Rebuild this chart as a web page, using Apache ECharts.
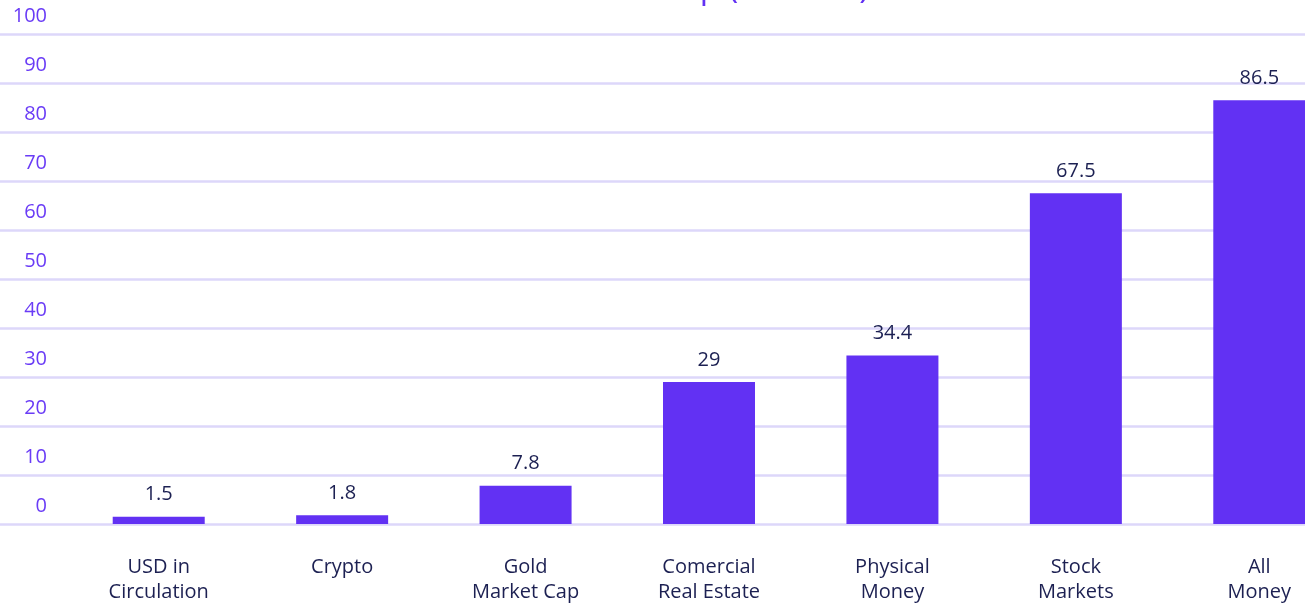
<!DOCTYPE html>
<html>
<head>
<meta charset="utf-8">
<script src="https://cdn.jsdelivr.net/npm/echarts@6/dist/echarts.min.js"></script>
<style>
  html, body { margin: 0; padding: 0; background: #ffffff; }
  #chart { width: 1305px; height: 603px; }
</style>
</head>
<body>
<div id="chart"></div>
<script>
// Market capitalisation by asset class, in trillions
const categories = [
  'USD in\nCirculation',
  'Crypto',
  'Gold\nMarket Cap',
  'Comercial\nReal Estate',
  'Physical\nMoney',
  'Stock\nMarkets',
  'All\nMoney'
];
const values = [1.5, 1.8, 7.8, 29, 34.4, 67.5, 86.5];
const yTicks = { min: 0, max: 100, interval: 10 };
const titleText = 'Market Cap (Trillions)';

const FONT = '"Open Sans", "Noto Sans", sans-serif';
const PURPLE = '#6231f3';
const AXIS_PURPLE = '#6a3cf6';
const NAVY = '#1c2052';
const GRID_LINE = '#ddd7fa';

const chart = echarts.init(document.getElementById('chart'), null, { renderer: 'canvas' });

chart.setOption({
  backgroundColor: '#ffffff',
  animation: false,
  title: {
    text: titleText,
    left: 538,
    top: -33,
    textStyle: { color: PURPLE, fontFamily: FONT, fontSize: 33, fontWeight: 'normal' }
  },
  grid: [
    // bars: the plot runs past the right edge of the canvas
    { left: 67, width: 1284, top: 34, bottom: 79, outerBoundsMode: 'none', containLabel: false },
    // full-width gridlines and value labels
    { left: 0, right: 0, top: 34, bottom: 79, outerBoundsMode: 'none', containLabel: false }
  ],
  xAxis: [
    {
      type: 'category',
      gridIndex: 0,
      data: categories,
      axisLine: { show: false },
      axisTick: { show: false },
      axisLabel: {
        color: NAVY,
        fontFamily: FONT,
        fontSize: 20,
        lineHeight: 25,
        margin: 31,
        interval: 0
      }
    },
    { type: 'value', gridIndex: 1, show: false, min: 0, max: 1 }
  ],
  yAxis: [
    {
      type: 'value',
      gridIndex: 0,
      min: yTicks.min, max: yTicks.max, interval: yTicks.interval,
      axisLine: { show: false },
      axisTick: { show: false },
      axisLabel: { show: false },
      splitLine: { show: false }
    },
    {
      type: 'value',
      gridIndex: 1,
      min: yTicks.min, max: yTicks.max, interval: yTicks.interval,
      axisLine: { show: false },
      axisTick: { show: false },
      splitLine: { show: true, lineStyle: { color: GRID_LINE, width: 2.5 } },
      axisLabel: {
        inside: true,
        margin: 47,
        align: 'right',
        verticalAlign: 'bottom',
        padding: [0, 0, 8, 0],
        color: AXIS_PURPLE,
        fontFamily: FONT,
        fontSize: 20
      }
    }
  ],
  series: [
    {
      type: 'bar',
      xAxisIndex: 0,
      yAxisIndex: 0,
      data: values,
      barWidth: 92,
      itemStyle: { color: PURPLE },
      label: {
        show: true,
        position: 'top',
        distance: 12,
        color: NAVY,
        fontFamily: FONT,
        fontSize: 20
      }
    }
  ]
});
</script>
</body>
</html>
